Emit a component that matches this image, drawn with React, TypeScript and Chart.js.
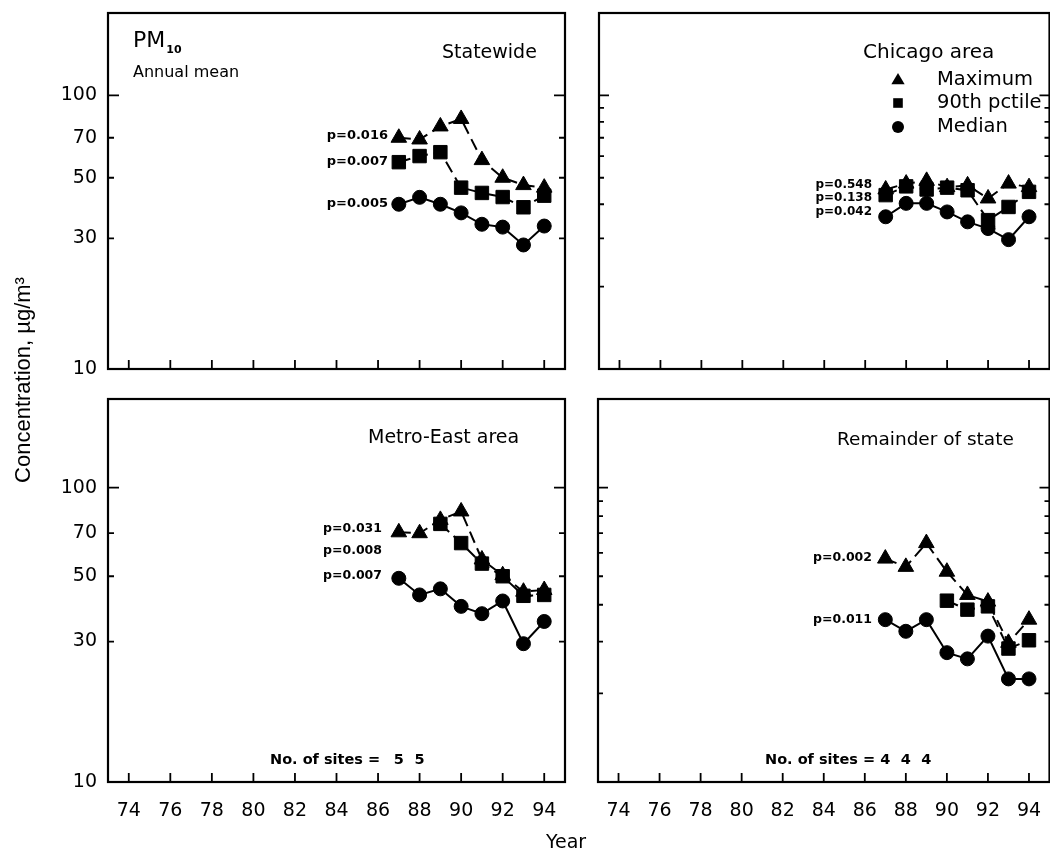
import React, { useEffect, useRef } from 'react';
import { Chart, registerables } from 'chart.js';

Chart.register(...registerables);

// ---------------- data ----------------
const years = [87, 88, 89, 90, 91, 92, 93, 94];
const xTickValues = [74, 76, 78, 80, 82, 84, 86, 88, 90, 92, 94];
const yTickLabelValues = [10, 30, 50, 70, 100];

const statewideMax = [70, 69, 77, 82, 58, 50, 47, 46];
const statewideP90 = [57, 60, 62, 46, 44, 42.5, 39, 43];
const statewideMedian = [40, 42.4, 40, 37.2, 33.8, 33, 28.4, 33.3];

const chicagoMax = [45.3, 47.6, 48.7, 46.2, 46.9, 42, 47.6, 46.2];
const chicagoP90 = [43.2, 46.5, 45.3, 46, 45, 35, 39.1, 44.4];
const chicagoMedian = [36, 40.3, 40.3, 37.5, 34.5, 32.6, 29.7, 36];

const metroMax = [70.5, 70, 77.7, 83, 57, 50.4, 44.3, 44.9];
const metroP90 = [null, null, 75.3, 64.8, 55.2, 50, 42.9, 43.2];
const metroMedian = [49.2, 43.2, 45.3, 39.5, 37.3, 41.2, 29.5, 35.1];

const remainderMax = [57.4, 53.8, 64.8, 51.8, 43.2, 41, 29.7, 35.6];
const remainderP90 = [null, null, null, 41.3, 38.5, 39.5, 28.4, 30.3];
const remainderMedian = [35.6, 32.5, 35.6, 27.5, 26.2, 31.3, 22.4, 22.4];

const metroSitesYears = [87, 88];
const metroSitesCounts = ['5', '5'];
const remainderSitesYears = [87, 88, 89];
const remainderSitesCounts = ['4', '4', '4'];

const statewidePLabels = ['p=0.016', 'p=0.007', 'p=0.005'];
const chicagoPLabels = ['p=0.548', 'p=0.138', 'p=0.042'];
const metroPLabels = ['p=0.031', 'p=0.008', 'p=0.007'];
const remainderPLabels = ['p=0.002', 'p=0.011'];

const legendLabels = ['Maximum', '90th pctile', 'Median'];

// ---------------- layout ----------------
const CW = 1060;
const CH = 854;
const FONT = '"DejaVu Sans", sans-serif';
const Y_W = 60;
const X_H = 40;

type TextItem = { t: string; x: number; y: number; size: number; bold?: boolean; align?: CanvasTextAlign };
type Panel = {
  id: string;
  area: { l: number; t: number; r: number; b: number };
  yLabels: boolean;
  xLabels: boolean;
  max: (number | null)[];
  p90: (number | null)[];
  median: (number | null)[];
  yTicks: { v: number; len: number }[];
  texts: TextItem[];
  pm10?: boolean;
  legend?: boolean;
  sites?: { x: number; y: number; years: number[]; counts: string[] };
  globalTitles?: boolean;
};

const leftTicks = [
  { v: 100, len: 11 },
  { v: 70, len: 6 },
  { v: 50, len: 6 },
  { v: 30, len: 6 },
];
const rightTicks = [
  { v: 100, len: 10 },
  { v: 90, len: 5 },
  { v: 80, len: 5 },
  { v: 70, len: 5 },
  { v: 60, len: 5 },
  { v: 50, len: 5 },
  { v: 40, len: 5 },
  { v: 30, len: 5 },
  { v: 20, len: 5 },
];

const pl = (labels: string[], x: number, ys: number[], size: number): TextItem[] =>
  labels.map((t, i) => ({ t, x, y: ys[i], size, bold: true, align: 'right' as CanvasTextAlign }));

const panels: Panel[] = [
  {
    id: 'statewide',
    area: { l: 108, t: 13, r: 565, b: 369 },
    yLabels: true,
    xLabels: false,
    max: statewideMax,
    p90: statewideP90,
    median: statewideMedian,
    yTicks: leftTicks,
    pm10: true,
    texts: [
      { t: 'Statewide', x: 442, y: 53, size: 19 },
      { t: 'Annual mean', x: 133, y: 73, size: 16 },
      ...pl(statewidePLabels, 388, [136, 162, 204], 13),
    ],
  },
  {
    id: 'chicago',
    area: { l: 599, t: 13, r: 1054, b: 369 },
    yLabels: false,
    xLabels: false,
    max: chicagoMax,
    p90: chicagoP90,
    median: chicagoMedian,
    yTicks: rightTicks,
    legend: true,
    texts: [
      { t: 'Chicago area', x: 863, y: 53, size: 20 },
      ...pl(chicagoPLabels, 872, [185, 198, 212], 12),
    ],
  },
  {
    id: 'metro',
    area: { l: 108, t: 399, r: 565, b: 782 },
    yLabels: true,
    xLabels: true,
    max: metroMax,
    p90: metroP90,
    median: metroMedian,
    yTicks: leftTicks,
    globalTitles: true,
    sites: { x: 270, y: 760, years: metroSitesYears, counts: metroSitesCounts },
    texts: [
      { t: 'Metro-East area', x: 368, y: 438, size: 19 },
      ...pl(metroPLabels, 382, [529, 551, 576], 12.5),
    ],
  },
  {
    id: 'remainder',
    area: { l: 598, t: 399, r: 1054, b: 782 },
    yLabels: false,
    xLabels: true,
    max: remainderMax,
    p90: remainderP90,
    median: remainderMedian,
    yTicks: rightTicks,
    sites: { x: 765, y: 760, years: remainderSitesYears, counts: remainderSitesCounts },
    texts: [
      { t: 'Remainder of state', x: 837, y: 440, size: 18.5 },
      ...pl(remainderPLabels, 872, [558, 620], 12.5),
    ],
  },
];

// ---------------- drawing helpers ----------------
function marker(ctx: CanvasRenderingContext2D, kind: string, x: number, y: number, r: number) {
  ctx.beginPath();
  if (kind === 'triangle') {
    ctx.moveTo(x, y - r);
    ctx.lineTo(x + r * 0.95, y + r * 0.6);
    ctx.lineTo(x - r * 0.95, y + r * 0.6);
    ctx.closePath();
  } else if (kind === 'rect') {
    ctx.rect(x - r * 0.8, y - r * 0.8, r * 1.6, r * 1.6);
  } else {
    ctx.arc(x, y, r, 0, Math.PI * 2);
  }
  ctx.fill();
}

function makeDecor(panel: Panel) {
  return {
    id: 'decor_' + panel.id,
    afterDraw(chart: any) {
      const ctx: CanvasRenderingContext2D = chart.ctx;
      const a = chart.chartArea;
      const xs = chart.scales.x;
      const ys = chart.scales.y;
      ctx.save();
      ctx.strokeStyle = '#000';
      ctx.fillStyle = '#000';
      ctx.lineWidth = 2.2;
      ctx.strokeRect(a.left, a.top, a.right - a.left, a.bottom - a.top);

      ctx.lineWidth = 1.8;
      ctx.beginPath();
      for (const v of xTickValues) {
        const x = xs.getPixelForValue(v);
        ctx.moveTo(x, a.bottom);
        ctx.lineTo(x, a.bottom - 9);
      }
      for (const t of panel.yTicks) {
        const y = ys.getPixelForValue(t.v);
        ctx.moveTo(a.left, y);
        ctx.lineTo(a.left + t.len, y);
        ctx.moveTo(a.right, y);
        ctx.lineTo(a.right - t.len, y);
      }
      ctx.stroke();

      ctx.textBaseline = 'middle';
      for (const it of panel.texts) {
        ctx.font = `${it.bold ? 'bold ' : ''}${it.size}px ${FONT}`;
        ctx.textAlign = it.align || 'left';
        ctx.fillText(it.t, it.x, it.y);
      }

      if (panel.pm10) {
        ctx.textBaseline = 'alphabetic';
        ctx.textAlign = 'left';
        ctx.font = `22px ${FONT}`;
        ctx.fillText('PM', 133, 47);
        const w = ctx.measureText('PM').width;
        ctx.font = `bold 11px ${FONT}`;
        ctx.fillText('10', 133 + w + 1, 53);
        ctx.textBaseline = 'middle';
      }

      if (panel.legend) {
        const kinds = ['triangle', 'rect', 'circle'];
        const rows = [80, 103, 127];
        ctx.font = `19.5px ${FONT}`;
        ctx.textAlign = 'left';
        legendLabels.forEach((lab, i) => {
          marker(ctx, kinds[i], 898, rows[i], kinds[i] === 'triangle' ? 7 : 6);
          ctx.fillText(lab, 937, rows[i]);
        });
      }

      if (panel.sites) {
        const s = panel.sites;
        ctx.font = `bold 14.5px ${FONT}`;
        ctx.textAlign = 'left';
        ctx.fillText('No. of sites =', s.x, s.y);
        ctx.textAlign = 'center';
        s.years.forEach((yr, i) => ctx.fillText(s.counts[i], xs.getPixelForValue(yr), s.y));
      }

      if (panel.globalTitles) {
        ctx.textAlign = 'center';
        ctx.font = `19px ${FONT}`;
        ctx.fillText('Year', 566, 843);
        ctx.save();
        ctx.translate(24, 380);
        ctx.rotate(-Math.PI / 2);
        ctx.font = `22px "Liberation Sans", Arial, sans-serif`;
        ctx.fillText('Concentration, \u00b5g/m\u00b3', 0, 0);
        ctx.restore();
      }
      ctx.restore();
    },
  };
}

function makeConfig(panel: Panel): any {
  const pts = (arr: (number | null)[]) => years.map((x, i) => ({ x, y: arr[i] }));
  const common = {
    borderColor: '#000',
    backgroundColor: '#000',
    pointBackgroundColor: '#000',
    pointBorderColor: '#000',
    borderWidth: 2,
    pointBorderWidth: 1,
    spanGaps: false,
    tension: 0,
  };
  const { l, t, r, b } = panel.area;
  return {
    type: 'line',
    data: {
      datasets: [
        { ...common, label: 'Maximum', data: pts(panel.max), pointStyle: 'triangle', pointRadius: 9, borderDash: [12, 6] },
        { ...common, label: '90th pctile', data: pts(panel.p90), pointStyle: 'rect', pointRadius: 9.5, borderDash: [12, 6] },
        { ...common, label: 'Median', data: pts(panel.median), pointStyle: 'circle', pointRadius: 7 },
      ],
    },
    options: {
      responsive: false,
      animation: false,
      devicePixelRatio: 1,
      events: [],
      layout: {
        padding: {
          left: l - (panel.yLabels ? Y_W : 0),
          top: t,
          right: CW - r,
          bottom: CH - b - (panel.xLabels ? X_H : 0),
        },
      },
      plugins: { legend: { display: false }, tooltip: { enabled: false }, title: { display: false } },
      scales: {
        x: {
          type: 'linear',
          min: 73,
          max: 95,
          display: panel.xLabels,
          afterFit: (s: any) => {
            s.height = panel.xLabels ? X_H : 0;
            s.paddingLeft = 0;
            s.paddingRight = 0;
          },
          afterBuildTicks: (s: any) => {
            s.ticks = xTickValues.map((v) => ({ value: v }));
          },
          grid: { display: false, drawTicks: false },
          border: { display: false },
          ticks: {
            autoSkip: false,
            maxRotation: 0,
            padding: 18,
            color: '#000',
            font: { family: FONT, size: 19 },
            callback: (v: any) => String(v),
          },
        },
        y: {
          type: 'logarithmic',
          min: 10,
          max: 200,
          display: panel.yLabels,
          afterFit: (s: any) => {
            s.width = panel.yLabels ? Y_W : 0;
            s.paddingTop = 0;
            s.paddingBottom = 0;
          },
          afterBuildTicks: (s: any) => {
            s.ticks = yTickLabelValues.map((v) => ({ value: v }));
          },
          grid: { display: false, drawTicks: false },
          border: { display: false },
          ticks: {
            autoSkip: false,
            padding: 11,
            color: '#000',
            font: { family: FONT, size: 19 },
            callback: (v: any) => String(v),
          },
        },
      },
    },
    plugins: [makeDecor(panel)],
  };
}

function PanelChart({ panel }: { panel: Panel }) {
  const ref = useRef<HTMLCanvasElement>(null);
  useEffect(() => {
    const chart = new Chart(ref.current as HTMLCanvasElement, makeConfig(panel));
    return () => chart.destroy();
  }, [panel]);
  return (
    <canvas
      ref={ref}
      width={CW}
      height={CH}
      style={{ position: 'absolute', left: 0, top: 0, width: CW, height: CH }}
    />
  );
}

export default function App() {
  return (
    <div
      style={{
        position: 'fixed',
        left: 0,
        top: 0,
        width: 1050,
        height: 854,
        overflow: 'hidden',
        background: '#fff',
      }}
    >
      {panels.map((p) => (
        <PanelChart key={p.id} panel={p} />
      ))}
    </div>
  );
}
